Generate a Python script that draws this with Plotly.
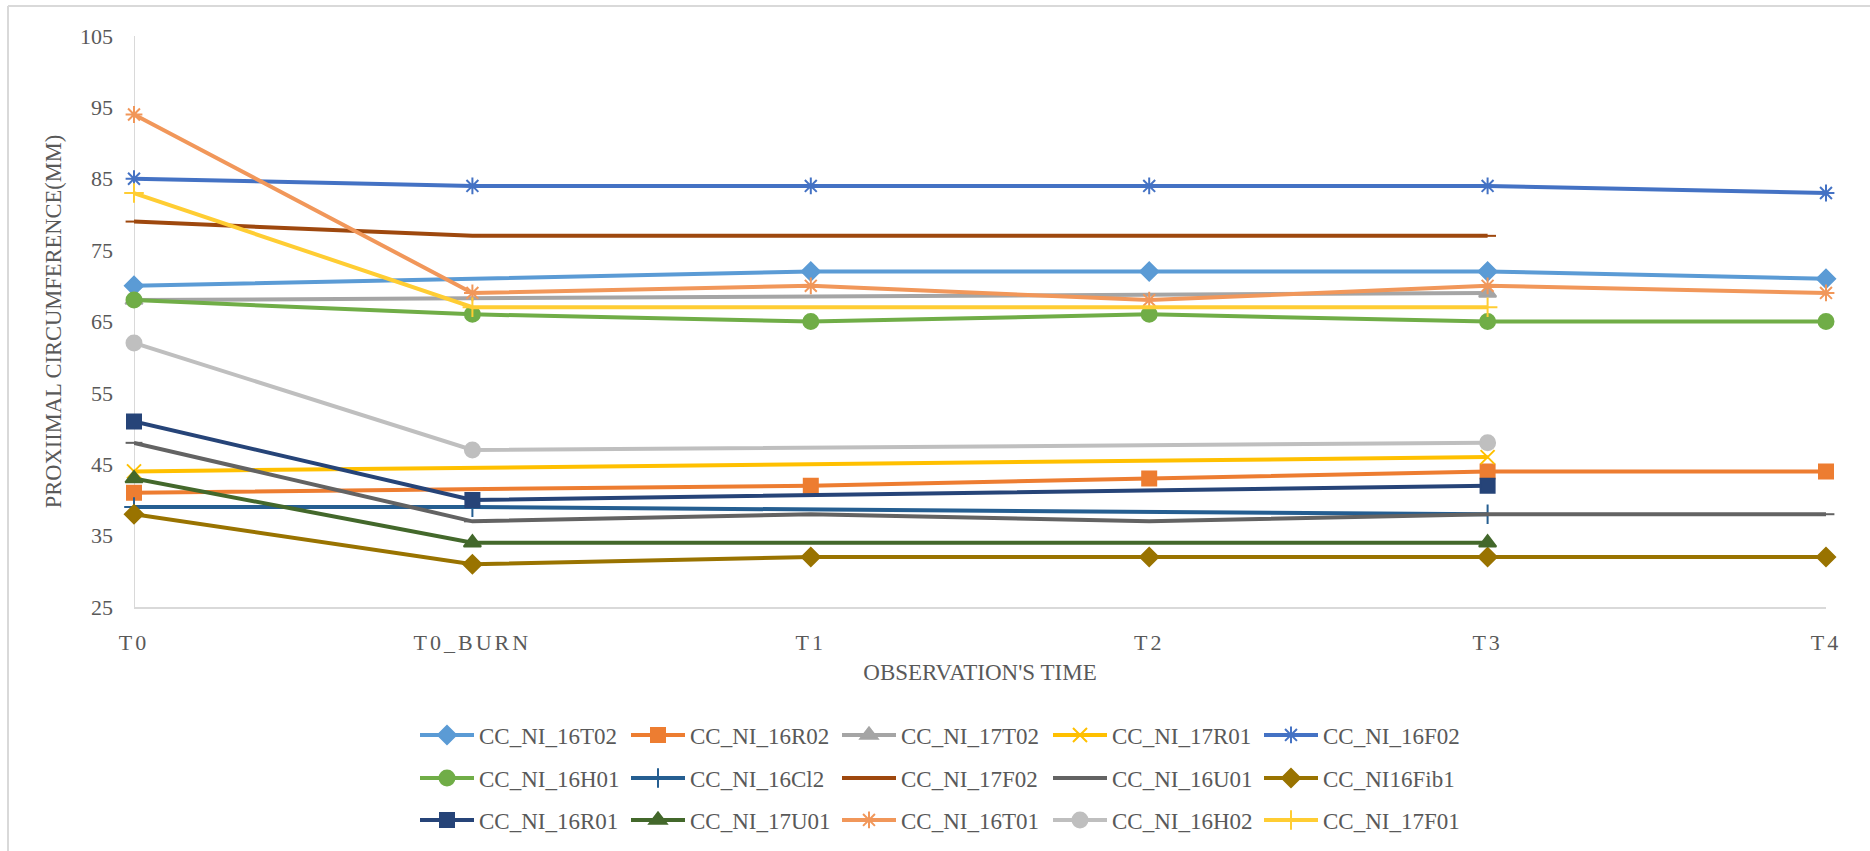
import plotly.graph_objects as go

# Observation times (x categories)
categories = ["T0", "T0_BURN", "T1", "T2", "T3", "T4"]

# Proximal circumference (mm) per specimen; None = not measured (line bridges the gap)
cc_ni_16t02 = [70, None, 72, 72, 72, 71]
cc_ni_16r02 = [41, None, 42, 43, 44, 44]
cc_ni_17t02 = [68, None, None, None, 69, None]
cc_ni_17r01 = [44, None, None, None, 46, None]
cc_ni_16f02 = [85, 84, 84, 84, 84, 83]
cc_ni_16h01 = [68, 66, 65, 66, 65, 65]
cc_ni_16cl2 = [39, 39, None, None, 38, None]
cc_ni_17f02 = [79, 77, 77, 77, 77, None]
cc_ni_16u01 = [48, 37, 38, 37, 38, 38]
cc_ni16fib1 = [38, 31, 32, 32, 32, 32]
cc_ni_16r01 = [51, 40, None, None, 42, None]
cc_ni_17u01 = [43, 34, None, None, 34, None]
cc_ni_16t01 = [94, 69, 70, 68, 70, 69]
cc_ni_16h02 = [62, 47, None, None, 48, None]
cc_ni_17f01 = [83, 67, None, None, 67, None]

series_names = [
    "CC_NI_16T02", "CC_NI_16R02", "CC_NI_17T02", "CC_NI_17R01", "CC_NI_16F02",
    "CC_NI_16H01", "CC_NI_16Cl2", "CC_NI_17F02", "CC_NI_16U01", "CC_NI16Fib1",
    "CC_NI_16R01", "CC_NI_17U01", "CC_NI_16T01", "CC_NI_16H02", "CC_NI_17F01",
]
series_values = [
    cc_ni_16t02, cc_ni_16r02, cc_ni_17t02, cc_ni_17r01, cc_ni_16f02,
    cc_ni_16h01, cc_ni_16cl2, cc_ni_17f02, cc_ni_16u01, cc_ni16fib1,
    cc_ni_16r01, cc_ni_17u01, cc_ni_16t01, cc_ni_16h02, cc_ni_17f01,
]

# Office-style palette and marker shapes
colors = [
    "#5B9BD5", "#ED7D31", "#A5A5A5", "#FFC000", "#4472C4",
    "#70AD47", "#255E91", "#9E480E", "#636363", "#997300",
    "#264478", "#43682B", "#F1975A", "#BFBFBF", "#FFCD33",
]
symbols = [
    "diamond", "square", "triangle-up", "x-thin-open", "asterisk-open",
    "circle", "cross-thin-open", "line-ew-open", "line-ew-open", "diamond",
    "square", "triangle-up", "asterisk-open", "circle", "cross-thin-open",
]
sizes = [14, 14, 15, 14, 14, 15, 14, 12, 12, 14, 14, 15, 14, 15, 14]

W, H = 1870, 851
L, R, T, B = 134, 44, 36, 244
FONT = "Liberation Serif, Times New Roman, serif"
TXT = "#595959"
GRID = "#D9D9D9"

fig = go.Figure()
legend_ids = ["legend", "legend2", "legend3"]
for i, (name, vals) in enumerate(zip(series_names, series_values)):
    fig.add_trace(go.Scatter(
        x=categories, y=vals, name=name, mode="lines+markers",
        connectgaps=True, cliponaxis=False,
        line=dict(color=colors[i], width=4),
        marker=dict(symbol=symbols[i], size=sizes[i], color=colors[i],
                    line=dict(color=colors[i], width=2)),
        legend=legend_ids[i // 5],
    ))

tick_text = ['<span style="letter-spacing:3px">%s</span>' % c for c in categories]

pw = W - L - R
ph = H - T - B


def px_x(p):
    return (p - L) / pw


def px_y(p):
    return (H - B - p) / ph


# chart-area frame (left and top edges)
fig.add_shape(type="line", xref="paper", yref="paper",
              x0=px_x(8), x1=px_x(1880), y0=px_y(6), y1=px_y(6),
              line=dict(color=GRID, width=2))
fig.add_shape(type="line", xref="paper", yref="paper",
              x0=px_x(8), x1=px_x(8), y0=px_y(6), y1=px_y(860),
              line=dict(color=GRID, width=2))

legend_common = dict(
    orientation="h", xref="container", yref="container",
    x=415 / W, xanchor="left", yanchor="middle",
    font=dict(family=FONT, size=23, color=TXT),
    bgcolor="rgba(0,0,0,0)", entrywidth=142, itemwidth=54,
    tracegroupgap=0,
)
row_y = [735, 778, 820]

fig.update_layout(
    width=W, height=H,
    margin=dict(l=L, r=R, t=T, b=B),
    paper_bgcolor="white", plot_bgcolor="white",
    font=dict(family=FONT, color=TXT, size=22),
    showlegend=True,
    legend=dict(legend_common, y=1 - row_y[0] / H),
    legend2=dict(legend_common, y=1 - row_y[1] / H),
    legend3=dict(legend_common, y=1 - row_y[2] / H),
    xaxis=dict(
        type="category", range=[0, 5],
        tickvals=categories, ticktext=tick_text,
        showgrid=False, zeroline=False,
        showline=True, linecolor=GRID, linewidth=2,
        ticks="", ticklabelstandoff=15,
        tickfont=dict(family=FONT, size=22, color=TXT),
        title=dict(text="OBSERVATION'S TIME", standoff=9,
                   font=dict(family=FONT, size=23, color=TXT)),
    ),
    yaxis=dict(
        range=[25, 105], dtick=10, tick0=25,
        showgrid=False, zeroline=False, showline=False,
        ticks="", ticklabelstandoff=20,
        tickfont=dict(family=FONT, size=22, color=TXT),
        title=dict(text="PROXIIMAL CIRCUMFERENCE(MM)", standoff=12,
                   font=dict(family=FONT, size=22.5, color=TXT)),
    ),
)

# vertical axis line sits on the T0 category
fig.add_shape(type="line", xref="x", yref="paper", x0=0, x1=0, y0=0, y1=1,
              line=dict(color=GRID, width=2), layer="below")

fig.write_html("out.html")
